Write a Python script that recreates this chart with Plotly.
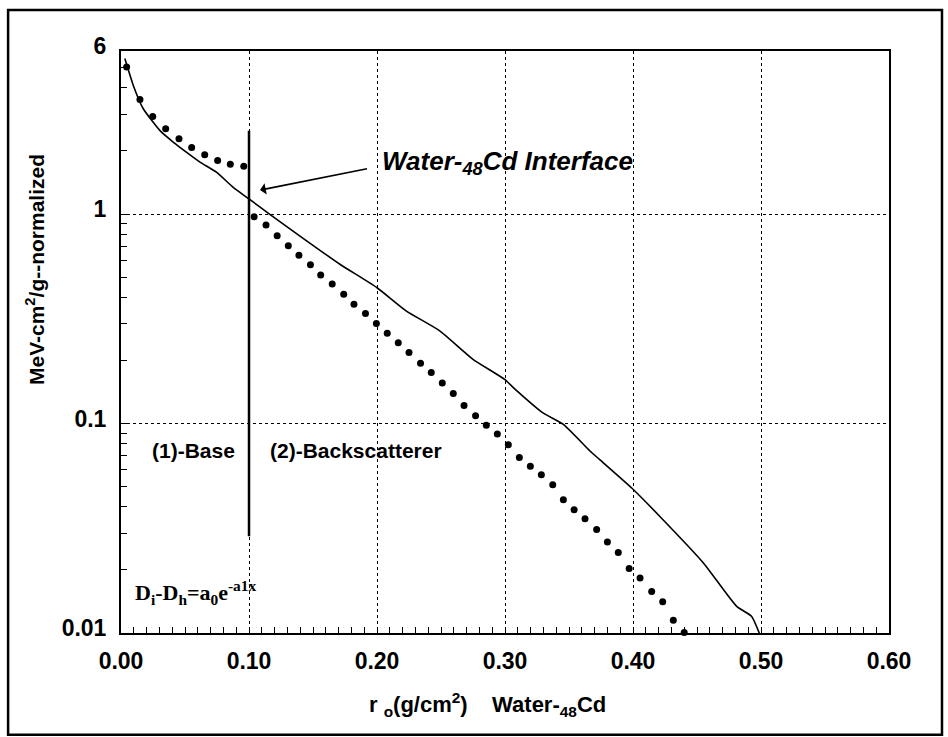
import plotly.graph_objects as go

# ---- data ----
line_x = [0.003, 0.0096, 0.0174, 0.0305, 0.041, 0.0513, 0.0617, 0.0748, 0.0877, 0.100,
          0.116, 0.145, 0.171, 0.1998, 0.223, 0.249, 0.275, 0.300, 0.3078,
          0.330, 0.3456, 0.3664, 0.374, 0.399, 0.421, 0.455, 0.481, 0.4927, 0.4992]
line_y = [5.52, 4.11, 3.18, 2.50, 2.20, 1.97, 1.77, 1.58, 1.34, 1.18,
          1.0, 0.745, 0.576, 0.446, 0.344, 0.277, 0.2025, 0.162, 0.146,
          0.112, 0.099, 0.0739, 0.0672, 0.0492, 0.036, 0.0216, 0.0134, 0.012, 0.0098]

dots_x = [0.0044, 0.0148, 0.0248, 0.0349, 0.0453, 0.0552, 0.0654, 0.0755, 0.0854, 0.0959,
          0.104, 0.1133, 0.122, 0.1307, 0.139, 0.148, 0.156, 0.165, 0.174, 0.182,
          0.191, 0.1995, 0.208, 0.2166, 0.225, 0.234, 0.2424, 0.251, 0.2596, 0.268,
          0.277, 0.2854, 0.294, 0.3026, 0.3112, 0.3198, 0.3284, 0.3373, 0.3456, 0.354,
          0.3625, 0.3716, 0.380, 0.3885, 0.397, 0.4055, 0.4146, 0.4232, 0.4315, 0.440]
dots_y = [5.03, 3.52, 2.92, 2.55, 2.29, 2.08, 1.92, 1.80, 1.73, 1.69,
          0.97, 0.886, 0.787, 0.705, 0.636, 0.572, 0.512, 0.463, 0.414, 0.371,
          0.335, 0.300, 0.27, 0.243, 0.218, 0.194, 0.175, 0.156, 0.139, 0.122,
          0.109, 0.098, 0.0892, 0.0792, 0.0688, 0.0625, 0.0569, 0.0510, 0.0433, 0.0388,
          0.0351, 0.0312, 0.0272, 0.0242, 0.0203, 0.0183, 0.0158, 0.0141, 0.0115, 0.01005]

interface_x = [0.1, 0.1]
interface_y = [0.029, 2.5]

x_ticks = [0.0, 0.1, 0.2, 0.3, 0.4, 0.5, 0.6]
x_ticktext = ["0.00", "0.10", "0.20", "0.30", "0.40", "0.50", "0.60"]
y_ticks = [0.01, 0.1, 1, 6]
y_ticktext = ["0.01", "0.1", "1", "6"]
x_minor = [i / 100 for i in range(1, 60) if i % 10]
y_minor = [m * 10.0 ** e for e in (-2, -1) for m in range(2, 10)] + [2, 3, 4, 5]

FONT = "Liberation Sans, Arial, sans-serif"
XR = [0, 0.6]
YR = [-2, 0.77815]

fig = go.Figure()
fig.add_trace(go.Scatter(x=line_x, y=line_y, mode="lines",
                         line=dict(color="black", width=1.6, shape="spline", smoothing=0.5),
                         showlegend=False))
fig.add_trace(go.Scatter(x=dots_x, y=dots_y, mode="markers", cliponaxis=False,
                         marker=dict(color="black", size=7), showlegend=False))
fig.add_trace(go.Scatter(x=interface_x, y=interface_y, mode="lines",
                         line=dict(color="black", width=2.5), showlegend=False))
# empty trace so the minor-tick overlay axes exist
fig.add_trace(go.Scatter(x=[None], y=[None], xaxis="x2", yaxis="y2",
                         showlegend=False, hoverinfo="skip"))

tick_common = dict(ticks="inside", ticklen=6, tickcolor="black", tickwidth=1.3)

fig.update_layout(
    width=948, height=737,
    margin=dict(l=121, r=59, t=51, b=104),
    paper_bgcolor="white", plot_bgcolor="white",
    font=dict(family=FONT, color="black"),
    xaxis=dict(range=XR, tickvals=x_ticks, ticktext=x_ticktext,
               showline=True, linecolor="black", linewidth=2, mirror=True,
               showgrid=True, gridcolor="black", griddash="dot", gridwidth=1,
               zeroline=False, ticklabelstandoff=6,
               tickfont=dict(size=23, family=FONT, weight="bold"), **tick_common),
    yaxis=dict(type="log", range=YR, tickvals=y_ticks, ticktext=y_ticktext,
               showline=True, linecolor="black", linewidth=2, mirror=True,
               showgrid=True, gridcolor="black", griddash="dot", gridwidth=1,
               zeroline=False, ticklabelstandoff=8, ticklabelshift=-5,
               tickfont=dict(size=23, family=FONT, weight="bold"), **tick_common),
    xaxis2=dict(range=XR, overlaying="x", anchor="y2", side="bottom",
                tickvals=x_minor, showticklabels=False, showgrid=False,
                showline=False, zeroline=False, **tick_common),
    yaxis2=dict(type="log", range=YR, overlaying="y", anchor="x2", side="left",
                tickvals=y_minor, showticklabels=False, showgrid=False,
                showline=False, zeroline=False, **tick_common),
)

# outer frame around the whole figure
fig.add_shape(type="rect", xref="paper", yref="paper",
              x0=-0.147, x1=1.069, y0=-0.175, y1=1.0704,
              line=dict(color="black", width=2.5), layer="above")

annots = [
    dict(x=0.337, y=0.8076, xanchor="left", yanchor="middle",
         text="<b><i>Water-<sub>48</sub>Cd Interface</i></b>",
         font=dict(size=26, family=FONT)),
    dict(x=0.0378, y=0.3144, xanchor="left", yanchor="middle",
         text="(1)-Base", font=dict(size=21, family=FONT, weight="bold")),
    dict(x=0.191, y=0.3144, xanchor="left", yanchor="middle",
         text="(2)-Backscatterer", font=dict(size=21, family=FONT, weight="bold")),
    dict(x=0.016, y=0.07, xanchor="left", yanchor="middle",
         text="D<sub>i</sub>-D<sub>h</sub>=a<sub>0</sub>e<sup>-a1x</sup>",
         font=dict(size=22, family="Liberation Serif, Times New Roman, serif", weight="bold")),
    dict(x=-0.112, y=0.6254, xanchor="center", yanchor="middle", textangle=-90,
         text="MeV-cm<sup>2</sup>/g--normalized",
         font=dict(size=21, family=FONT, weight="bold")),
    dict(x=0.477, y=-0.122, xanchor="center", yanchor="middle",
         text="r <sub>o</sub>(g/cm<sup>2</sup>)\u00a0\u00a0\u00a0 Water-<sub>48</sub>Cd",
         font=dict(size=22, family=FONT, weight="bold")),
]
for a in annots:
    fig.add_annotation(xref="paper", yref="paper", showarrow=False, **a)

# arrow pointing at the interface
fig.add_annotation(xref="paper", yref="paper", x=0.181, y=0.761, text=" ",
                   showarrow=True, ax=110, ay=-22, arrowhead=1, arrowsize=1.2,
                   arrowwidth=1.6, arrowcolor="black")

fig.write_html("out.html")
